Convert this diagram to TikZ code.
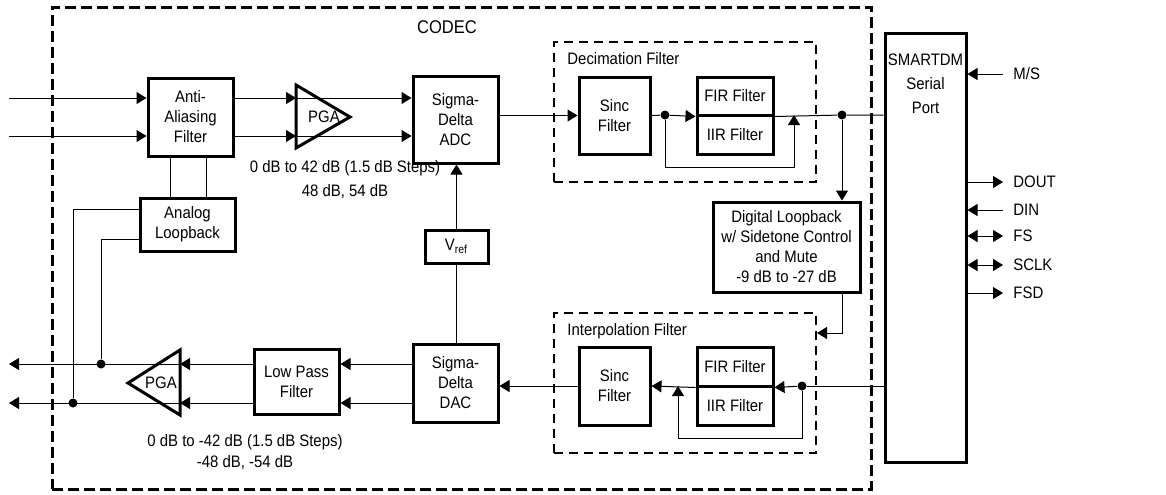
\documentclass[tikz,border=0pt]{standalone}
\usepackage{fontspec}
\setmainfont{Liberation Sans}[FakeStretch=0.9]
\usepackage{tikz}
\usetikzlibrary{calc,arrows.meta,positioning}
\tikzset{
blk/.style={draw, line width=1.5pt, align=center, inner sep=1pt},
amp/.style={draw, line width=1.5pt, line join=miter},
grp/.style={draw, line width=1pt, dash pattern=on 4.5pt off 3pt},
wire/.style={line width=0.5pt},
sig/.style={line width=0.5pt, -{Triangle[length=5pt,width=6pt]}},
sigb/.style={line width=0.5pt, {Triangle[length=5pt,width=6pt]}-{Triangle[length=5pt,width=6pt]}},
dot/.style={circle, fill, inner sep=0pt, minimum size=4.5pt},
pinlbl/.style={anchor=west, inner xsep=5pt, inner ysep=0pt},
}

\begin{document}
\begin{tikzpicture}[x=0.5pt,y=0.5pt,yscale=-1,xscale=1,font=\fontsize{8.3}{10}\selectfont]
		\useasboundingbox (0,0) rectangle (1166,494);
		
		% Groups
		\node [grp, line width=1.5pt, dash pattern=on 5.5pt off 2.5pt, minimum width=409.5pt, minimum height=241pt] (codec) at (461.5,248) {};
		\node [font=\fontsize{9.2}{11}\selectfont] (codectxt) at (447,27) {CODEC};
		\node [grp, minimum width=131pt, minimum height=70pt] (dbox) at (685,112) {};
		\node [anchor=west, inner sep=1pt] (dboxtxt) at (565,59) {Decimation Filter};
		\node [grp, minimum width=131pt, minimum height=70pt] (ibox) at (685,383) {};
		\node [anchor=west, inner sep=1pt] (iboxtxt) at (565,331) {Interpolation Filter};
		
		% Blocks
		\node [blk, minimum width=42.5pt, minimum height=39pt] (aa) at (190.5,117) {Anti-\\Aliasing\\Filter};
		\node [blk, minimum width=42.5pt, minimum height=43.5pt] (adc) at (455.5,119.5) {Sigma-\\Delta\\ADC};
		\node [blk, minimum width=47.5pt, minimum height=26.5pt] (alb) at (187.5,224.5) {Analog\\Loopback};
		\node [blk, minimum width=31.5pt, minimum height=16.5pt] (vref) at (456.5,246.5) {V\textsubscript{ref}};
		\node [blk, minimum width=42.5pt, minimum height=32.5pt] (lpf) at (296.5,381.5) {Low Pass\\Filter};
		\node [blk, minimum width=42.5pt, minimum height=39pt] (dac) at (455.5,383) {Sigma-\\Delta\\DAC};
		\node [blk, minimum width=35.5pt, minimum height=38.5pt] (dsinc) at (614.5,115.5) {Sinc\\Filter};
		\node [blk, minimum width=38pt, minimum height=19pt] (dfir) at (735,96) {FIR Filter};
		\node [blk, minimum width=38pt, minimum height=19.5pt] (diir) at (735,134.5) {IIR Filter};
		\node [blk, minimum width=73.5pt, minimum height=45pt] (dl) at (786.5,247) {Digital Loopback\\w/ Sidetone Control\\and Mute\\-9 dB to -27 dB};
		\node [blk, minimum width=35.5pt, minimum height=39pt] (isinc) at (614.5,386) {Sinc\\Filter};
		\node [blk, minimum width=38pt, minimum height=19.5pt] (ifir) at (735,366.5) {FIR Filter};
		\node [blk, minimum width=38pt, minimum height=19.5pt] (iiir) at (735,405.5) {IIR Filter};
		\node [blk, minimum width=40.5pt, minimum height=214.5pt] (smart) at (925.5,247.5) {};
		\node [align=center, inner sep=0pt, font=\fontsize{8.3}{12}\selectfont] (smarttxt) at (925.5,84) {SMARTDM\\Serial\\Port};
		
		% Amplifiers
		\draw [amp] (296,85) -- (350,117) -- (296,148) -- cycle;
		\node (pga1) at (324,117) {PGA};
		\coordinate (pga1in) at (296,117);
		\draw [amp] (180,350) -- (128,383) -- (180,415) -- cycle;
		\node (pga2) at (161,383) {PGA};
		\coordinate (pga2in) at (180,383);
		
		% Gain Text
		\node [align=center, font=\fontsize{8.3}{12}\selectfont] (adcgain) at (345,180) {0 dB to 42 dB (1.5 dB Steps)\\48 dB, 54 dB};
		\node [align=center, font=\fontsize{8.3}{10.5}\selectfont] (dacgain) at (245,452.5) {0 dB to -42 dB (1.5 dB Steps)\\-48 dB, -54 dB};
		
		% Rows
		\coordinate (inA) at (9,98);
		\coordinate (inB) at (9,136);
		\coordinate (outA) at (9,364);
		\coordinate (outB) at (9,403);
		\coordinate (rowA) at (0,209);
		\coordinate (rowB) at (0,239);
		\coordinate (rowI) at (0,333);
		\coordinate (lbA) at (170,0);
		\coordinate (lbB) at (206,0);
		\coordinate (dbyp) at (794,115);
		\coordinate (dbot) at (0,167);
		\coordinate (ibyp) at (678,386);
		\coordinate (ibot) at (0,438);
		\node [dot] (dsp1) at (665,115) {};
		\node [dot] (dsp2) at (842,115) {};
		\node [dot] (isp) at (802,386) {};
		\node [dot] (odA) at (101,364) {};
		\node [dot] (odB) at (73,403) {};
		
		% Connection
		\draw [sig] (inA) -- (inA -| aa.west);
		\draw [sig] (inB) -- (inB -| aa.west);
		\draw [sig] (aa.east |- inA) -- (inA -| pga1in);
		\draw [sig] (aa.east |- inB) -- (inB -| pga1in);
		\draw [sig] (inA -| pga1in) -- (adc.west |- inA);
		\draw [sig] (inB -| pga1in) -- (adc.west |- inB);
		\draw [wire] (aa.south -| lbA) -- (alb.north -| lbA);
		\draw [wire] (aa.south -| lbB) -- (alb.north -| lbB);
		\draw [wire] (alb.west |- rowA) -| (odB);
		\draw [wire] (alb.west |- rowB) -| (odA);
		
		% Connection
		\draw [sig] (adc.east |- dsinc.west) -- (dsinc.west);
		\draw [wire] (dsinc.east) -- (dsp1);
		\draw [sig] (dsp1) -- (dfir.south west);
		\draw [sig] (dsp1) |- (dbot -| dbyp) -- (dbyp);
		\draw [wire] (dfir.south east) -- (dsp2) -- (smart.west |- dsp2);
		\draw [sig] (dsp2) -- (dsp2 |- dl.north);
		\draw [sig] (dsp2 |- dl.south) |- (ibox.east |- rowI);
		
		% Connection
		\draw [wire] (smart.west |- isp) -- (isp);
		\draw [sig] (isp) -- (ifir.south east);
		\draw [sig] (isp) |- (ibot -| ibyp) -- (ibyp);
		\draw [sig] (ifir.south west) -- (isinc.east);
		\draw [sig] (isinc.west) -- (dac.east |- isinc.west);
		\draw [sig] (vref.north) -- (vref.north |- adc.south);
		\draw [wire] (vref.south) -- (vref.south |- dac.north);
		
		% Connection
		\draw [sig] (dac.west |- outA) -- (lpf.east |- outA);
		\draw [sig] (dac.west |- outB) -- (lpf.east |- outB);
		\draw [sig] (lpf.west |- outA) -- (outA -| pga2in);
		\draw [sig] (lpf.west |- outB) -- (outB -| pga2in);
		\draw [sig] (outA -| pga2in) -- (outA);
		\draw [sig] (outB -| pga2in) -- (outB);
		
		% Serial Port
		\node [pinlbl] (pms) at (1003,74) {M/S};
		\node [pinlbl] (pdout) at (1003,182) {DOUT};
		\node [pinlbl] (pdin) at (1003,210) {DIN};
		\node [pinlbl] (pfs) at (1003,236) {FS};
		\node [pinlbl] (psclk) at (1003,265) {SCLK};
		\node [pinlbl] (pfsd) at (1003,293) {FSD};
		\draw [sig] (pms.west) -- (pms.west -| smart.east);
		\draw [sig] (pdout.west -| smart.east) -- (pdout.west);
		\draw [sig] (pdin.west) -- (pdin.west -| smart.east);
		\draw [sigb] (pfs.west -| smart.east) -- (pfs.west);
		\draw [sigb] (psclk.west -| smart.east) -- (psclk.west);
		\draw [sig] (pfsd.west -| smart.east) -- (pfsd.west);
		
\end{tikzpicture}
\end{document}
